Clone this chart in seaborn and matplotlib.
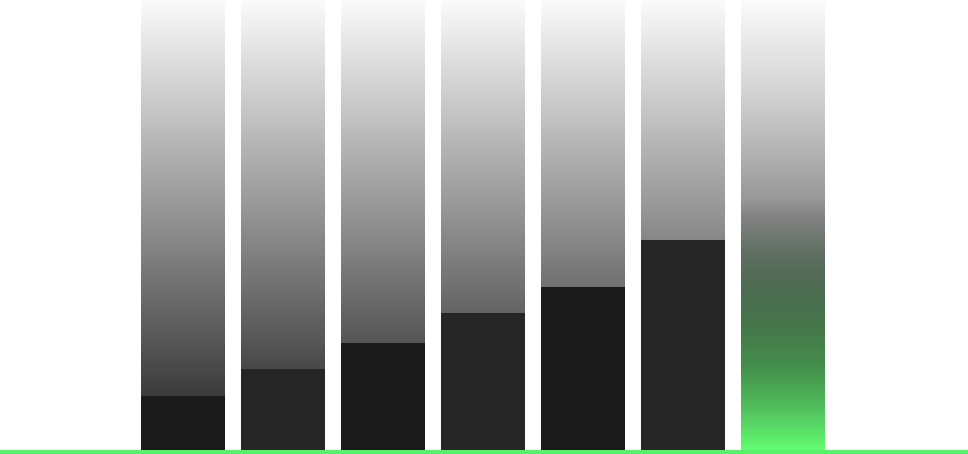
import numpy as np
import pandas as pd
import matplotlib
matplotlib.use("Agg")
import matplotlib.pyplot as plt
from matplotlib.colors import LinearSegmentedColormap
import seaborn as sns

# data (share of column height, %)
columns = ["c1", "c2", "c3", "c4", "c5", "c6", "c7"]
values = [12, 18, 23.8, 30.4, 36.2, 46.7]
bar_colors = ["#1b1b1b", "#262626", "#1b1b1b", "#262626", "#1b1b1b", "#262626"]
highlight = "c7"

sns.set_style("white")
fig = plt.figure(figsize=(9.68, 4.54), dpi=100)
ax = fig.add_axes([0, 0, 1, 1])

gray = LinearSegmentedColormap.from_list("gray", ["#fbfbfb", "#222222"])
green = LinearSegmentedColormap.from_list("green", [
    (0.0, "#fbfbfb"), (0.22, "#d0d0d0"), (0.44, "#999999"), (0.48, "#848484"),
    (0.56, "#606f63"), (0.64, "#4e6b52"), (0.73, "#44774a"), (0.82, "#45904c"),
    (0.91, "#52c05d"), (1.0, "#62fb70")])

grad = np.linspace(0, 1, 256).reshape(-1, 1)
w = 0.84
for i, c in enumerate(columns):
    cmap = green if c == highlight else gray
    ax.imshow(grad, cmap=cmap, aspect="auto", extent=(i - w / 2, i + w / 2, 0, 100),
              origin="upper", zorder=1, interpolation="bicubic")

df = pd.DataFrame({"col": columns[:len(values)], "val": values})
sns.barplot(data=df, x="col", y="val", hue="col", palette=bar_colors, width=w,
            legend=False, ax=ax, zorder=2, linewidth=0, saturation=1)

ybot = -100 * 4 / 450
ax.axhspan(ybot, 0, color="#58f26a", zorder=3, lw=0)
ax.set_xlim(-1.83, 7.85)
ax.set_ylim(ybot, 100)
ax.axis("off")

fig.savefig("out.png", dpi=100)
